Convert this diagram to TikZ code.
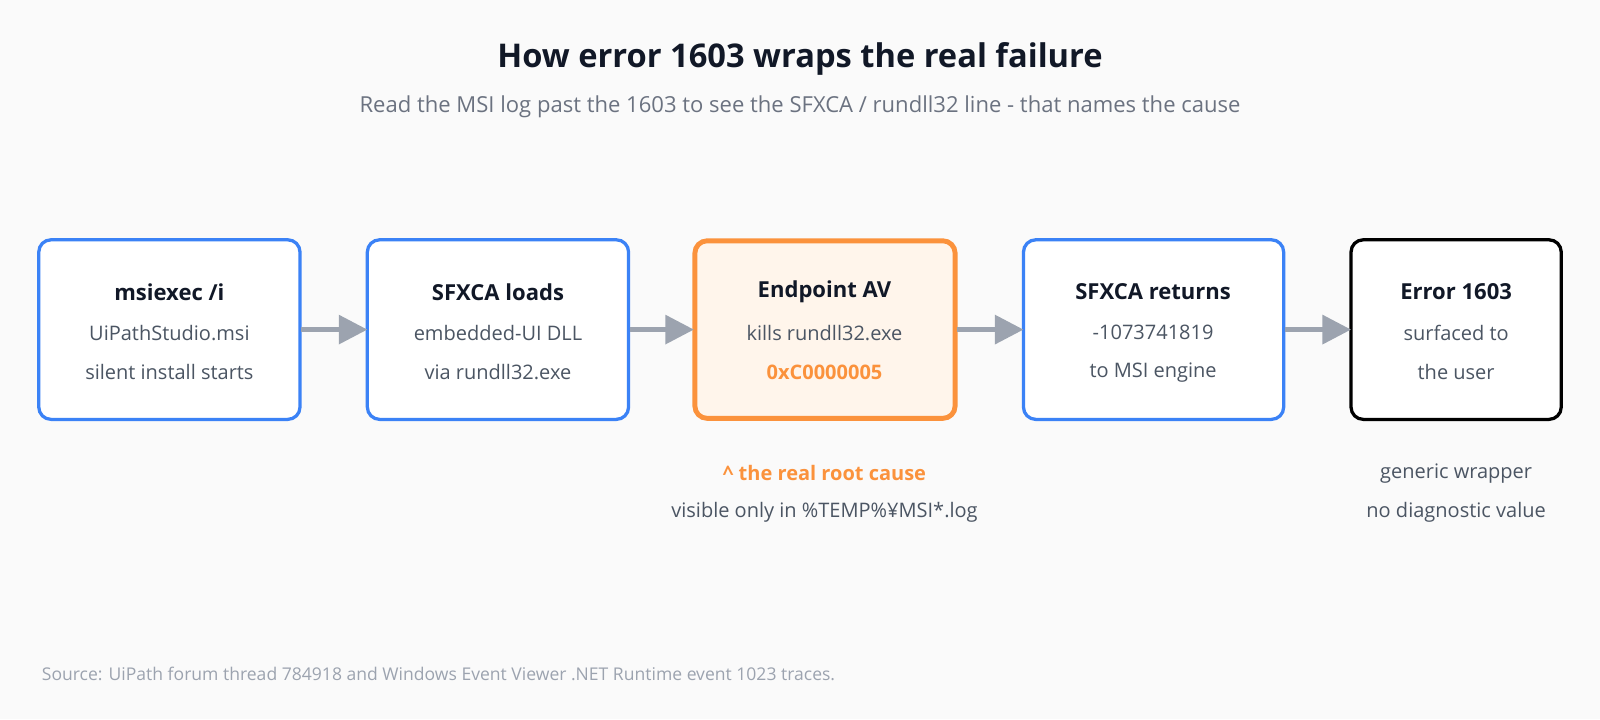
\documentclass[tikz,border=0pt]{standalone}
\usepackage{fontspec}
\setmainfont{Open Sans}
\usetikzlibrary{arrows.meta}
\definecolor{bg}{HTML}{FAFAFA}
\definecolor{blu}{HTML}{3B82F6}
\definecolor{org}{HTML}{FB923C}
\definecolor{orgfill}{HTML}{FFF5EB}
\definecolor{arr}{HTML}{9CA3AF}
\definecolor{dark}{HTML}{111827}
\definecolor{mid}{HTML}{4B5563}
\definecolor{light}{HTML}{6B7280}
\definecolor{foot}{HTML}{9CA3AF}
\begin{document}
\begin{tikzpicture}[x=0.5pt,y=-0.5pt,
 box/.style={draw=blu,line width=1.6pt,rounded corners=6pt,fill=white},
 lbl/.style={font=\fontsize{9.8}{11}\selectfont,text=mid},
 hd/.style={font=\fontsize{10.8}{12}\selectfont\bfseries,text=dark},
 conn/.style={draw=arr,line width=2.2pt,-{Triangle[length=14pt,width=14pt]}}]
\fill[bg] (0,0) rectangle (1568,705);
\useasboundingbox (0,0) rectangle (1568,705);
\node[font=\fontsize{16}{19}\selectfont\bfseries,text=dark] (title) at (784,58) {How error 1603 wraps the real failure};
\node[font=\fontsize{10.8}{12}\selectfont,text=light] (sub) at (784,105) {Read the MSI log past the 1603 to see the SFXCA / rundll32 line - that names the cause};
\draw[box] (38,235) rectangle (294,411);
\draw[box] (360,235) rectangle (616,411);
\draw[box,draw=org,fill=orgfill,line width=2.4pt] (681,236) rectangle (936,410);
\draw[box] (1003,235) rectangle (1258,411);
\draw[box,draw=black] (1324,235) rectangle (1530,411);
\node[hd] (h1) at (166,286) {msiexec /i};
\node[lbl] (a1) at (166,326) {UiPathStudio.msi};
\node[lbl] (c1) at (166,365) {silent install starts};
\node[hd] (h2) at (488,286) {SFXCA loads};
\node[lbl] (a2) at (488,326) {embedded-UI DLL};
\node[lbl] (c2) at (488,365) {via rundll32.exe};
\node[hd] (h3) at (808,286) {Endpoint AV};
\node[lbl] (a3) at (808,326) {kills rundll32.exe};
\node[lbl,text=org,font=\fontsize{9.8}{11}\selectfont\bfseries] (c3) at (808,365) {0xC0000005};
\node[hd] (h4) at (1130,286) {SFXCA returns};
\node[lbl] (a4) at (1130,326) {-1073741819};
\node[lbl] (c4) at (1130,365) {to MSI engine};
\node[hd] (h5) at (1427,286) {Error 1603};
\node[lbl] (a5) at (1427,326) {surfaced to};
\node[lbl] (c5) at (1427,365) {the user};
\coordinate (e1) at (295,323); \coordinate (s2) at (360,323);
\coordinate (e2) at (617,323); \coordinate (s3) at (680,323);
\coordinate (e3) at (938,323); \coordinate (s4) at (1003,323);
\coordinate (e4) at (1259,323); \coordinate (s5) at (1324,323);
\draw[conn] (e1) -- (s2);
\draw[conn] (e2) -- (s3);
\draw[conn] (e3) -- (s4);
\draw[conn] (e4) -- (s5);
\node[lbl,text=org,font=\fontsize{9.8}{11}\selectfont\bfseries] (n1) at (808,464) {\^{} the real root cause};
\node[lbl] (n2) at (808,502) {visible only in \%TEMP\%¥MSI*.log};
\node[lbl] (n3) at (1427,464) {generic wrapper};
\node[lbl] (n4) at (1427,502) {no diagnostic value};
\node[anchor=west,font=\fontsize{8.6}{10}\selectfont,text=foot] (src) at (34,660) {Source: UiPath forum thread 784918 and Windows Event Viewer .NET Runtime event 1023 traces.};
\end{tikzpicture}
\end{document}
